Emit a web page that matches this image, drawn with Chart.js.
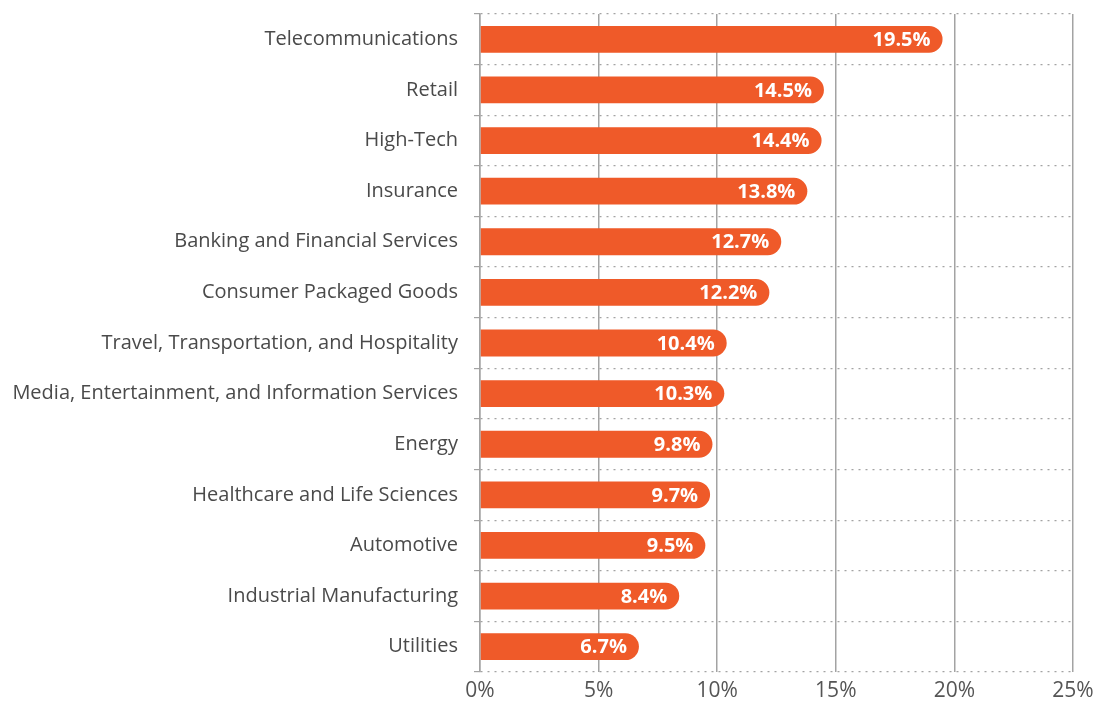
<!DOCTYPE html>
<html>
<head>
<meta charset="utf-8">
<script src="https://cdn.jsdelivr.net/npm/chart.js@4/dist/chart.umd.min.js"></script>
<style>
  html, body { margin: 0; padding: 0; background: #fff; }
  #wrap { width: 1095px; height: 701px; }
</style>
</head>
<body>
<div id="wrap"><canvas id="industryChart"></canvas></div>
<script>
// Share by industry, in percent
const industries = [
    'Telecommunications',
    'Retail',
    'High-Tech',
    'Insurance',
    'Banking and Financial Services',
    'Consumer Packaged Goods',
    'Travel, Transportation, and Hospitality',
    'Media, Entertainment, and Information Services',
    'Energy',
    'Healthcare and Life Sciences',
    'Automotive',
    'Industrial Manufacturing',
    'Utilities'
];
const shares = [19.5, 14.5, 14.4, 13.8, 12.7, 12.2, 10.4, 10.3, 9.8, 9.7, 9.5, 8.4, 6.7];
const xTicks = [0, 5, 10, 15, 20, 25];

const BAR_COLOR = '#ef5a29';
const GRID_COLOR = '#a3a3a3';

// writes the value inside the rounded end of each bar
const valueLabels = {
    id: 'valueLabels',
    afterDatasetsDraw(chart) {
        const ctx = chart.ctx;
        const meta = chart.getDatasetMeta(0);
        ctx.save();
        ctx.font = 'bold 20px "Open Sans", sans-serif';
        ctx.fillStyle = '#ffffff';
        ctx.textAlign = 'right';
        ctx.textBaseline = 'middle';
        meta.data.forEach((bar, i) => {
            ctx.fillText(shares[i].toFixed(1) + '%', bar.x - 12, bar.y + 1);
        });
        ctx.restore();
    }
};

new Chart(document.getElementById('industryChart'), {
    type: 'bar',
    data: {
        labels: industries,
        datasets: [{
            data: shares,
            backgroundColor: BAR_COLOR,
            borderRadius: 14,
            borderSkipped: 'start',
            barPercentage: 0.53,
            categoryPercentage: 1
        }]
    },
    options: {
        indexAxis: 'y',
        responsive: true,
        maintainAspectRatio: false,
        animation: false,
        layout: { padding: { top: 14, right: 22, left: 0, bottom: 0 } },
        plugins: {
            legend: { display: false },
            tooltip: { enabled: false }
        },
        scales: {
            x: {
                min: 0,
                max: 25,
                afterBuildTicks: (scale) => {
                    scale.ticks = xTicks.map(v => ({ value: v }));
                },
                afterFit: (scale) => {
                    scale.height = 29;
                    scale.paddingLeft = 0;
                    scale.paddingRight = 0;
                },
                border: { display: false },
                grid: {
                    color: GRID_COLOR,
                    lineWidth: 1.5,
                    drawTicks: false
                },
                ticks: {
                    padding: 6,
                    color: '#555555',
                    font: { family: '"Open Sans", sans-serif', size: 21 },
                    callback: (v) => v + '%'
                }
            },
            y: {
                afterFit: (scale) => {
                    scale.width = 480;
                    scale.paddingTop = 0;
                    scale.paddingBottom = 0;
                },
                border: { display: true, color: GRID_COLOR, width: 1.5, dash: [2, 5] },
                grid: {
                    offset: true,
                    color: GRID_COLOR,
                    lineWidth: 1.2,
                    drawTicks: true,
                    tickLength: 6,
                    tickColor: GRID_COLOR,
                    tickBorderDash: []
                },
                ticks: {
                    padding: 16,
                    color: '#4a4a4a',
                    font: { family: '"Open Sans", sans-serif', size: 20 }
                }
            }
        }
    },
    plugins: [valueLabels]
});
</script>
</body>
</html>
